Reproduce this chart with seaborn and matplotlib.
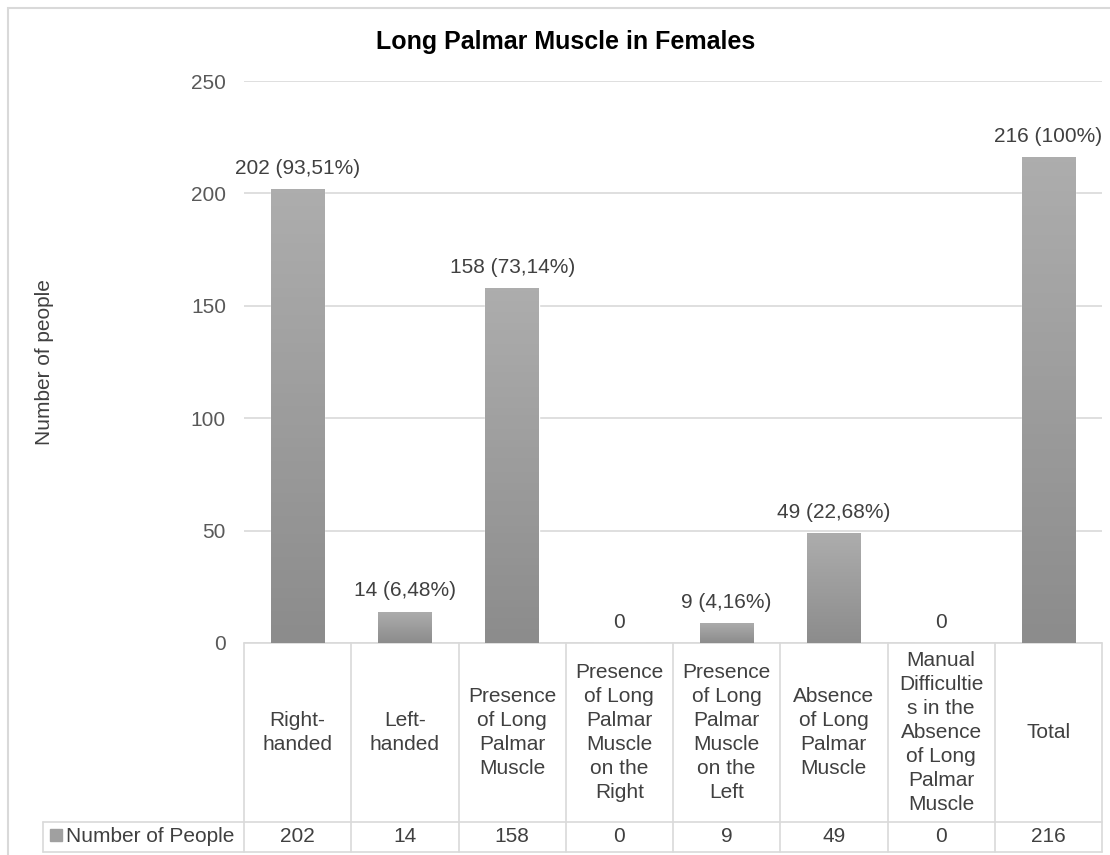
import numpy as np
import pandas as pd
import matplotlib.pyplot as plt
import matplotlib.transforms as mtransforms
from matplotlib.patches import Rectangle
import seaborn as sns

# Chart data
categories = ["Right-\nhanded", "Left-\nhanded", "Presence\nof Long\nPalmar\nMuscle",
              "Presence\nof Long\nPalmar\nMuscle\non the\nRight",
              "Presence\nof Long\nPalmar\nMuscle\non the\nLeft",
              "Absence\nof Long\nPalmar\nMuscle",
              "Manual\nDifficultie\ns in the\nAbsence\nof Long\nPalmar\nMuscle",
              "Total"]
counts = [202, 14, 158, 0, 9, 49, 0, 216]
bar_labels = ["202 (93,51%)", "14 (6,48%)", "158 (73,14%)", "0", "9 (4,16%)",
              "49 (22,68%)", "0", "216 (100%)"]
y_ticks = [0, 50, 100, 150, 200, 250]
series_name = "Number of People"

df = pd.DataFrame({"category": categories, "count": counts})

sns.set_style("white")
plt.rcParams["font.family"] = ["Liberation Sans", "DejaVu Sans"]

W, H = 1110, 855
fig = plt.figure(figsize=(W / 100, H / 100), dpi=100)
ax = fig.add_axes([244 / W, 1 - 643 / H, (1102 - 244) / W, (643 - 81) / H])

sns.barplot(data=df, x="category", y="count", color="#9c9c9c", width=0.5,
            ax=ax, zorder=2, errorbar=None)

# vertical gradient fill inside each bar
grad = np.linspace(0, 1, 100).reshape(-1, 1)
cmap = sns.blend_palette(["#8c8c8c", "#adadad"], as_cmap=True)
for p in ax.patches:
    b = p.get_bbox()
    if b.height <= 0:
        continue
    im = ax.imshow(grad, extent=[b.x0, b.x1, b.y0, b.y1], origin="lower",
                   aspect="auto", cmap=cmap, zorder=3)
    im.set_clip_path(p)

ax.set_xlim(-0.5, len(categories) - 0.5)
ax.set_ylim(0, 250)
ax.set_yticks(y_ticks)
ax.set_xticks([])
ax.set_xlabel("")
ax.set_ylabel("")
ax.tick_params(axis="y", length=0, pad=13, labelsize=15, labelcolor="#595959")
ax.yaxis.grid(True, color="#d9d9d9", lw=1.2)
ax.set_axisbelow(True)
sns.despine(ax=ax, left=True, bottom=True)

# labels above bars
for i, (v, lab) in enumerate(zip(counts, bar_labels)):
    ax.annotate(lab, (i, v), xytext=(0, 8), textcoords="offset points",
                ha="center", va="bottom", fontsize=15, color="#404040")

# data table under the chart
ah = 643 - 81
row1 = -(822 - 643) / ah
row2 = -(852 - 643) / ah
hdr_left = (43 - 244) / (1102 - 244)
lc = "#d9d9d9"
bt = mtransforms.blended_transform_factory(ax.transData, ax.transAxes)
n = len(categories)
ax.plot([-0.5, n - 0.5], [0, 0], transform=bt, color=lc, lw=1.2, clip_on=False)
for k in range(n + 1):
    ax.plot([k - 0.5, k - 0.5], [0, row2], transform=bt, color=lc, lw=1.2, clip_on=False)
for yy in (row1, row2):
    ax.plot([hdr_left, 1], [yy, yy], transform=ax.transAxes, color=lc, lw=1.2, clip_on=False)
ax.plot([hdr_left, hdr_left], [row1, row2], transform=ax.transAxes, color=lc, lw=1.2, clip_on=False)

for i, (c, v) in enumerate(zip(categories, counts)):
    ax.text(i, row1 / 2, c, transform=bt, ha="center", va="center",
            fontsize=15, color="#404040", linespacing=1.34)
    ax.text(i, (row1 + row2) / 2, str(v), transform=bt, ha="center", va="center",
            fontsize=15, color="#404040")

ax.add_patch(Rectangle(((50 - 244) / 858, -(841 - 643) / ah), 12 / 858, 12 / ah,
                       transform=ax.transAxes, color="#a0a0a0", clip_on=False))
ax.text((66 - 244) / 858, (row1 + row2) / 2, series_name, transform=ax.transAxes,
        ha="left", va="center", fontsize=15, color="#404040")

# axis title and chart title
ax.text((45 - 244) / 858, 0.5, "Number of people", transform=ax.transAxes,
        rotation=90, ha="center", va="center", fontsize=15, color="#404040")
fig.text(566 / W, 1 - 42 / H, "Long Palmar Muscle in Females", ha="center",
         va="center", fontsize=18, fontweight="bold", color="#000000")

# chart border
fig.add_artist(Rectangle((8 / W, -0.1), 1.2, 1 - 8 / H + 0.1, transform=fig.transFigure,
                         fill=False, edgecolor=lc, lw=1.5))

fig.savefig("out.png", dpi=100)
